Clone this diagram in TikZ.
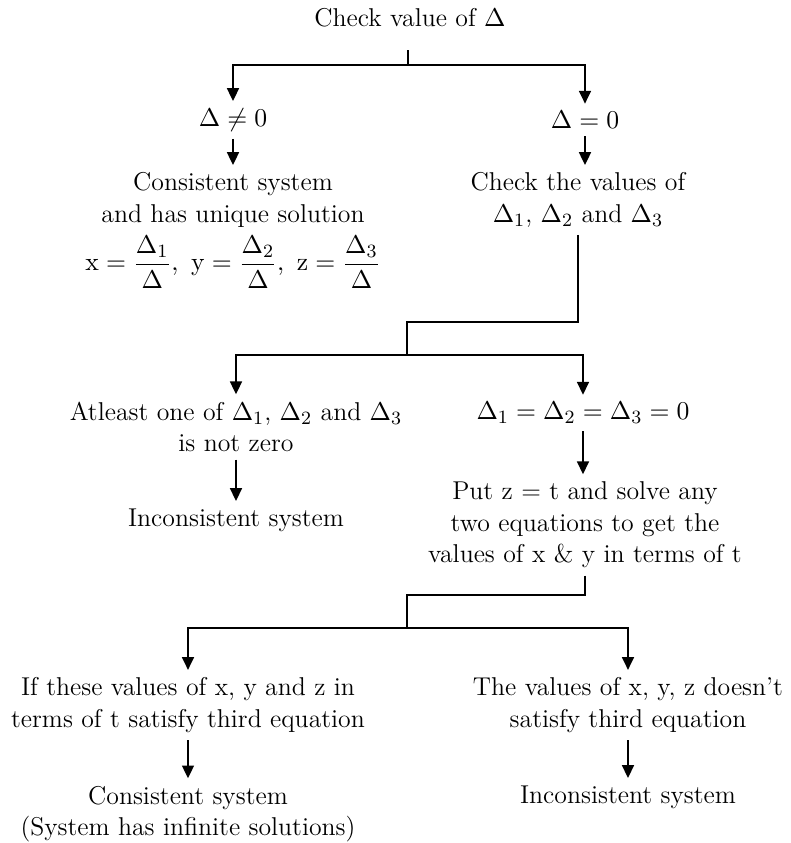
\documentclass[tikz,border=0pt]{standalone}
\usepackage{amsmath}
\usepackage{tikz}
\usetikzlibrary{arrows.meta,positioning}

\begin{document}
\begin{tikzpicture}[
    x=0.015cm, y=-0.015cm,
    txt/.style={align=center, font=\fontsize{11}{13.5}\selectfont, inner sep=3pt},
    ln/.style={line width=1pt},
    arr/.style={line width=1pt, -{Triangle[length=5.5pt,width=5pt]}}
  ]
    \useasboundingbox (0,0) rectangle (791,843);

    %% ── top ──
    \node[txt] (chk)   at (410,18)  {Check value of $\Delta$};
    \node[txt] (dne)   at (233,120) {$\Delta \neq 0$};
    \node[txt] (deq)   at (585,120) {$\Delta = 0$};
    \node[txt] (uniq)  at (233,200) {Consistent system\\and has unique solution};
    \node[txt] (frac)  at (233,262) {$\mathrm{x}=\dfrac{\Delta_1}{\Delta},\ \mathrm{y}=\dfrac{\Delta_2}{\Delta},\ \mathrm{z}=\dfrac{\Delta_3}{\Delta}$};
    \node[txt] (cvals) at (578,200) {Check the values of\\$\Delta_1$, $\Delta_2$ and $\Delta_3$};

    %% ── middle ──
    \node[txt] (atl)   at (236,427) {Atleast one of $\Delta_1$, $\Delta_2$ and $\Delta_3$\\is not zero};
    \node[txt] (inc1)  at (236,520) {Inconsistent system};
    \node[txt] (dall)  at (583,413) {$\Delta_1 = \Delta_2 = \Delta_3 = 0$};
    \node[txt] (put)   at (585,525) {Put z = t and solve any\\two equations to get the\\values of x \& y in terms of t};

    %% ── bottom ──
    \node[txt] (sat)   at (188,705) {If these values of x, y and z in\\terms of t satisfy third equation};
    \node[txt] (nsat)  at (628,705) {The values of x, y, z doesn't\\satisfy third equation};
    \node[txt] (cons)  at (188,814) {Consistent system\\(System has infinite solutions)};
    \node[txt] (inc2)  at (628,797) {Inconsistent system};

    %% ── junctions ──
    \coordinate (j0) at (408,50);
    \coordinate (j1) at (408,65);
    \coordinate (j2) at (407,322);
    \coordinate (j3) at (407,355);
    \coordinate (j4) at (407,595);
    \coordinate (j5) at (407,628);

    %% ── connectors ──
    \draw[ln]  (j0) -- (j1);
    \draw[arr] (j1) -| (dne.north);
    \draw[arr] (j1) -| (deq.north);
    \draw[arr] (dne) -- (uniq);
    \draw[arr] (deq.south) -- (deq.south |- cvals.north);

    \draw[ln]  (cvals.south) |- (j2) -- (j3);
    \draw[arr] (j3) -| (atl.north);
    \draw[arr] (j3) -| (dall.north);
    \draw[arr] (atl) -- (inc1);
    \draw[arr] (dall.south) -- (dall.south |- put.north);

    \draw[ln]  (put.south) |- (j4) -- (j5);
    \draw[arr] (j5) -| (sat.north);
    \draw[arr] (j5) -| (nsat.north);
    \draw[arr] (sat) -- (cons);
    \draw[arr] (nsat) -- (inc2);
  \end{tikzpicture}
\end{document}
